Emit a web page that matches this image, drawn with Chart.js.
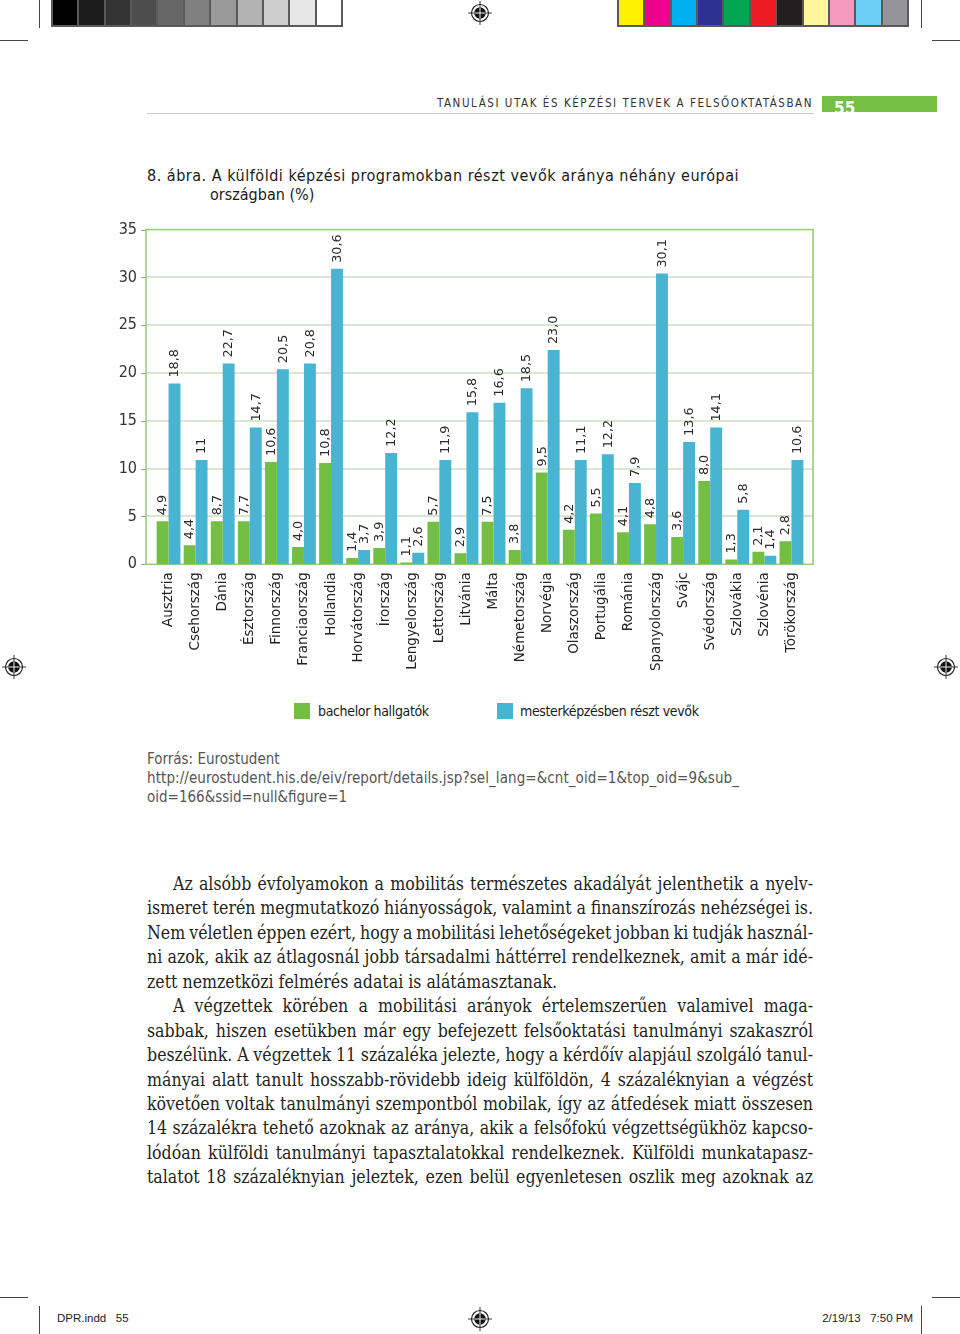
<!DOCTYPE html>
<html><head><meta charset="utf-8">
<script src="https://cdn.jsdelivr.net/npm/chart.js@4.4.1/dist/chart.umd.min.js"></script>
<style>
html,body{margin:0;padding:0;background:#fff;}
#page{position:relative;width:960px;height:1334px;overflow:hidden;background:#fff;color:#222;font-family:"DejaVu Sans",sans-serif;}
.hl{position:absolute;height:1px;background:#444;}
.vl{position:absolute;width:1px;background:#444;}
.strip{position:absolute;top:-2px;height:29px;background:#5a5a5a;padding:2px;box-sizing:border-box;display:flex;gap:2px;}
.strip div{flex:1;}
.cond{font-family:"Liberation Sans Narrow","DejaVu Sans Condensed",sans-serif;}
.t{position:absolute;white-space:nowrap;}
#chart{position:absolute;left:100px;top:202px;}
.body{position:absolute;left:147px;top:872px;width:666px;font-family:"DejaVu Serif Condensed","DejaVu Serif",serif;font-size:17.6px;line-height:24.45px;color:#231f20;}
.ln{white-space:nowrap;height:24.45px;}
.ind{padding-left:26px;}
.sq{position:absolute;width:16px;height:16px;}
</style></head>
<body><div id="page">
<div class="vl" style="left:39px;top:0;height:28px"></div>
<div class="hl" style="left:0;top:40px;width:28px"></div>
<div class="vl" style="left:921px;top:0;height:28px"></div>
<div class="hl" style="left:932px;top:40px;width:28px"></div>
<div class="strip" id="grays" style="left:51px;width:292px"></div>
<div class="strip" id="colors" style="left:617px;width:292px"></div>

<div class="t cond" id="hdr" style="left:437px;top:96px;font-size:11.5px;line-height:14px;color:#333;">TANULÁSI UTAK ÉS KÉPZÉSI TERVEK A FELSŐOKTATÁSBAN</div>
<div style="position:absolute;left:822px;top:96px;width:115px;height:16px;background:#74bf44;overflow:hidden;">
  <div class="cond" style="position:absolute;left:12px;top:2px;color:#fff;font-weight:bold;font-size:17px;line-height:20px;">55</div>
</div>
<div class="hl" style="left:147px;top:113px;width:667px;background:#c8c8c8"></div>

<div class="t" id="title1" style="left:147px;top:166px;font-family:'DejaVu Sans Condensed',sans-serif;font-size:16px;line-height:20px;color:#1a1a1a;">8. ábra. A külföldi képzési programokban részt vevők aránya néhány európai</div>
<div class="t" id="title2" style="left:210px;top:185px;font-family:'DejaVu Sans Condensed',sans-serif;font-size:16px;line-height:20px;color:#1a1a1a;">országban (%)</div>

<canvas id="chart" width="720" height="478"></canvas>

<div class="sq" id="sq1" style="left:294px;top:703px"></div>
<div class="t cond" id="lg1" style="left:318px;top:703px;font-size:14px;line-height:17px;letter-spacing:-0.35px;color:#1a1a1a"></div>
<div class="sq" id="sq2" style="left:497px;top:703px"></div>
<div class="t cond" id="lg2" style="left:520px;top:703px;font-size:14px;line-height:17px;letter-spacing:-0.35px;color:#1a1a1a"></div>

<div class="t cond" style="left:147px;top:750px;font-size:15px;line-height:19px;color:#555">Forrás: Eurostudent</div>
<div class="t cond" id="url1" style="left:147px;top:769px;font-size:15px;line-height:19px;color:#555">http://eurostudent.his.de/eiv/report/details.jsp?sel_lang=&amp;cnt_oid=1&amp;top_oid=9&amp;sub_</div>
<div class="t cond" style="left:147px;top:788px;font-size:15px;line-height:19px;color:#555">oid=166&amp;ssid=null&amp;figure=1</div>

<div class="body" id="body"></div>

<div class="hl" style="left:0;top:1297px;width:28px"></div>
<div class="vl" style="left:39px;top:1306px;height:28px"></div>
<div class="hl" style="left:932px;top:1297px;width:28px"></div>
<div class="vl" style="left:921px;top:1306px;height:28px"></div>
<div class="t" style="left:57px;top:1311px;font-family:'Liberation Sans',sans-serif;font-size:11.5px;line-height:14px;color:#222">DPR.indd&nbsp;&nbsp;&nbsp;55</div>
<div class="t" style="right:47px;top:1311px;font-family:'Liberation Sans',sans-serif;font-size:11.5px;line-height:14px;color:#222">2/19/13&nbsp;&nbsp;&nbsp;7:50 PM</div>
</div>

<script>
// ---- data ----
const categories = ["Ausztria","Csehország","Dánia","Észtország","Finnország","Franciaország","Hollandia","Horvátország","Írország","Lengyelország","Lettország","Litvánia","Málta","Németország","Norvégia","Olaszország","Portugália","Románia","Spanyolország","Svájc","Svédország","Szlovákia","Szlovénia","Törökország"];
const seriesNames = ["bachelor hallgatók","mesterképzésben részt vevők"];
const bachelorValues = [4.5,2.0,4.5,4.5,10.7,1.8,10.6,0.65,1.7,0.2,4.45,1.15,4.45,1.5,9.6,3.6,5.3,3.35,4.2,2.85,8.7,0.5,1.3,2.4];
const masterValues = [18.9,10.9,21.0,14.3,20.4,21.0,30.9,1.5,11.65,1.2,10.9,15.9,16.9,18.4,22.4,10.9,11.5,8.5,30.4,12.8,14.3,5.7,0.9,10.9];
const bachelorLabels = ["4,9","4,4","8,7","7,7","10,6","4,0","10,8","1,4","3,9","1,1","5,7","2,9","7,5","3,8","9,5","4,2","5,5","4,1","4,8","3,6","8,0","1,3","2,1","2,8"];
const masterLabels = ["18,8","11","22,7","14,7","20,5","20,8","30,6","3,7","12,2","2,6","11,9","15,8","16,6","18,5","23,0","11,1","12,2","7,9","30,1","13,6","14,1","5,8","1,4","10,6"];
const yTickValues = [0,5,10,15,20,25,30,35];

const GREEN = "#72bf44", BLUE = "#47b4d2";
const grayShades = ["#000","#1c1c1c","#333","#4d4d4d","#666","#808080","#999","#b3b3b3","#ccc","#e6e6e6","#fff"];
const printColors = ["#fff200","#ec008c","#00aeef","#2e3192","#00a651","#ed1c24","#231f20","#fff799","#f49ac1","#6dcff6","#939598"];

grayShades.forEach(c=>{const d=document.createElement('div');d.style.background=c;document.getElementById('grays').appendChild(d);});
printColors.forEach(c=>{const d=document.createElement('div');d.style.background=c;document.getElementById('colors').appendChild(d);});

// registration marks
[[480,13],[14,667],[946,667],[480,1319]].forEach(([x,y])=>{
  const s=document.createElementNS('http://www.w3.org/2000/svg','svg');
  s.setAttribute('width','26');s.setAttribute('height','26');
  s.style.position='absolute';s.style.left=(x-13)+'px';s.style.top=(y-13)+'px';
  s.innerHTML='<circle cx="13" cy="13" r="8.5" fill="#fff" stroke="#222" stroke-width="1.2"/><circle cx="13" cy="13" r="5.8" fill="#111"/><line x1="13" y1="1" x2="13" y2="25" stroke="#222" stroke-width="0.9"/><line x1="1" y1="13" x2="25" y2="13" stroke="#222" stroke-width="0.9"/><line x1="13" y1="7.5" x2="13" y2="18.5" stroke="#fff" stroke-width="0.9"/><line x1="7.5" y1="13" x2="18.5" y2="13" stroke="#fff" stroke-width="0.9"/>';
  document.getElementById('page').appendChild(s);
});

document.getElementById('sq1').style.background=GREEN;
document.getElementById('sq2').style.background=BLUE;
document.getElementById('lg1').textContent=seriesNames[0];
document.getElementById('lg2').textContent=seriesNames[1];

// body text
const bodyLines = [
 ["Az alsóbb évfolyamokon a mobilitás természetes akadályát jelenthetik a nyelv-", "ind", true],
 ["ismeret terén megmutatkozó hiányosságok, valamint a finanszírozás nehézségei is.", "", true],
 ["Nem véletlen éppen ezért, hogy a mobilitási lehetőségeket jobban ki tudják használ-", "", true],
 ["ni azok, akik az átlagosnál jobb társadalmi háttérrel rendelkeznek, amit a már idé-", "", true],
 ["zett nemzetközi felmérés adatai is alátámasztanak.", "", false],
 ["A végzettek körében a mobilitási arányok értelemszerűen valamivel maga-", "ind", true],
 ["sabbak, hiszen esetükben már egy befejezett felsőoktatási tanulmányi szakaszról", "", true],
 ["beszélünk. A végzettek 11 százaléka jelezte, hogy a kérdőív alapjául szolgáló tanul-", "", true],
 ["mányai alatt tanult hosszabb-rövidebb ideig külföldön, 4 százaléknyian a végzést", "", true],
 ["követően voltak tanulmányi szempontból mobilak, így az átfedések miatt összesen", "", true],
 ["14 százalékra tehető azoknak az aránya, akik a felsőfokú végzettségükhöz kapcso-", "", true],
 ["lódóan külföldi tanulmányi tapasztalatokkal rendelkeznek. Külföldi munkatapasz-", "", true],
 ["talatot 18 százaléknyian jeleztek, ezen belül egyenletesen oszlik meg azoknak az", "", true]
];
const bodyEl=document.getElementById('body');
bodyLines.forEach(([txt,cls,just])=>{
  const d=document.createElement('div');d.className='ln '+cls;
  const sp=document.createElement('span');sp.textContent=txt;d.appendChild(sp);bodyEl.appendChild(d);
  if(just){
    const avail = 666-(cls?26:0);
    const w=sp.getBoundingClientRect().width;
    const n=(txt.match(/ /g)||[]).length;
    sp.style.wordSpacing=((avail-w)/n)+'px';
  }
});

function fitLS(id,target){
  const el=document.getElementById(id);
  const w=el.getBoundingClientRect().width;
  const n=el.textContent.length;
  el.style.letterSpacing=((target-w)/n)+'px';
}
fitLS('hdr',376);
fitLS('title1',592);
fitLS('url1',592);

// chart
const FRAME_L = 9, FRAME_R = 8;
const framePlugin = {
  id:'frame',
  beforeDatasetsDraw(chart){
    const {ctx, chartArea:a, scales:{y}} = chart;
    const L=a.left-FRAME_L, R=a.right+FRAME_R;
    ctx.save();
    ctx.strokeStyle='#dae6cf';ctx.lineWidth=2;
    yTickValues.forEach(v=>{ if(v>0&&v<35){const py=Math.round(y.getPixelForValue(v));ctx.beginPath();ctx.moveTo(L,py);ctx.lineTo(R,py);ctx.stroke();}});
    ctx.strokeStyle='#999';ctx.lineWidth=1;
    yTickValues.forEach(v=>{const py=Math.round(y.getPixelForValue(v))+0.5;ctx.beginPath();ctx.moveTo(L-5,py);ctx.lineTo(L,py);ctx.stroke();});
    ctx.strokeStyle='#98cf78';ctx.lineWidth=1.6;
    const t=y.getPixelForValue(35), b=y.getPixelForValue(0);
    ctx.strokeRect(L,t,R-L,b-t);
    ctx.restore();
  }
};
const valueLabelPlugin = {
  id:'vlabels',
  afterDatasetsDraw(chart){
    const ctx=chart.ctx; const labelSets=[bachelorLabels,masterLabels];
    ctx.save();
    ctx.font='12.8px "DejaVu Sans", sans-serif';ctx.fillStyle='#2a2a2a';
    ctx.textAlign='left';ctx.textBaseline='middle';
    labelSets.forEach((labels,i)=>{
      chart.getDatasetMeta(i).data.forEach((bar,j)=>{
        ctx.save();ctx.translate(bar.x+0.5,bar.y-6);ctx.rotate(-Math.PI/2);
        ctx.fillText(labels[j],0,0);ctx.restore();
      });
    });
    ctx.restore();
  }
};
new Chart(document.getElementById('chart'),{
  type:'bar',
  data:{labels:categories,datasets:[
    {label:seriesNames[0],data:bachelorValues,backgroundColor:GREEN,borderWidth:0,categoryPercentage:0.88,barPercentage:1.0},
    {label:seriesNames[1],data:masterValues,backgroundColor:BLUE,borderWidth:0,categoryPercentage:0.88,barPercentage:1.0}
  ]},
  options:{
    responsive:false,animation:false,devicePixelRatio:1,
    layout:{padding:{left:0,right:15,top:0,bottom:0}},
    plugins:{legend:{display:false},tooltip:{enabled:false},title:{display:false}},
    scales:{
      x:{grid:{display:false,drawTicks:false},border:{display:false},
         ticks:{minRotation:90,maxRotation:90,autoSkip:false,padding:8,color:'#222',font:{family:'"DejaVu Sans", sans-serif',size:13.5}},
         afterFit:s=>{s.height=115.7;}},
      y:{min:0,max:35,grid:{display:false,drawTicks:false},border:{display:false},
         afterBuildTicks:s=>{s.ticks=yTickValues.map(v=>({value:v}));},
         ticks:{padding:18,color:'#333',font:{family:'"Liberation Sans Narrow","DejaVu Sans Condensed",sans-serif',size:16}},
         afterFit:s=>{s.width=55;}}
    }
  },
  plugins:[framePlugin,valueLabelPlugin]
});
</script>
</body></html>
